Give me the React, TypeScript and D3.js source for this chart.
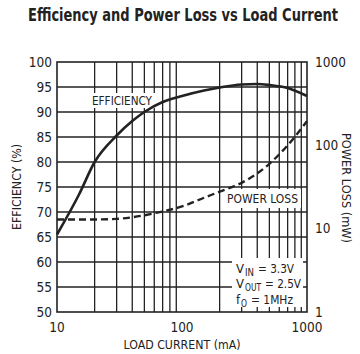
import { useMemo } from "react";
import * as d3 from "d3";

// load current (mA) vs efficiency (%)
const effCurrent = [10, 15, 20, 30, 40, 50, 70, 100, 150, 200, 300, 400, 500, 700, 1000];
const efficiency = [65.5, 73.5, 80, 85.3, 88.2, 90, 92, 93.2, 94.3, 94.9, 95.5, 95.6, 95.4, 94.8, 93.2];

// load current (mA) vs power loss (mW)
const lossCurrent = [10, 20, 30, 40, 60, 100, 150, 200, 300, 400, 500, 700, 1000];
const powerLoss = [12.9, 12.9, 13.1, 13.7, 15.3, 18.5, 23.5, 27.8, 35.5, 46, 60, 100, 195];

const effTicks = [50, 55, 60, 65, 70, 75, 80, 85, 90, 95, 100];
const lossTicks = [1, 10, 100, 1000];
const currentTicks = [10, 100, 1000];
const currentGrid = [20, 30, 40, 50, 60, 70, 80, 90, 200, 300, 400, 500, 600, 700, 800, 900];

const FONT = "'Liberation Sans Narrow', 'DejaVu Sans Condensed', 'Liberation Sans', sans-serif";
const INK = "#222";

export default function App() {
  const width = 360;
  const height = 354;
  const m = { left: 57, right: 307, top: 62, bottom: 312 };

  const x = d3.scaleLog().domain([10, 1000]).range([m.left, m.right]);
  const yEff = d3.scaleLinear().domain([50, 100]).range([m.bottom, m.top]);
  const yLoss = d3.scaleLog().domain([1, 1000]).range([m.bottom, m.top]);

  const effPath = useMemo(() => {
    const line = d3.line<number>()
      .x((d, i) => x(effCurrent[i]))
      .y(d => yEff(d))
      .curve(d3.curveMonotoneX);
    return line(efficiency);
  }, []);

  const lossPath = useMemo(() => {
    const line = d3.line<number>()
      .x((d, i) => x(lossCurrent[i]))
      .y(d => yLoss(d))
      .curve(d3.curveMonotoneX);
    return line(powerLoss);
  }, []);

  // legend lines: main letter, subscript, rest
  const legend = [
    { v: "V", sub: "IN", subW: 9, rest: "= 3.3V", restW: 36, y: 273 },
    { v: "V", sub: "OUT", subW: 16, rest: "= 2.5V", restW: 36, y: 288 },
    { v: "f", sub: "O", subW: 6, rest: "= 1MHz", restW: 42, y: 304 },
  ];

  return (
    <svg width={width} height={height} style={{ position: "absolute", left: 0, top: 0, background: "#fff" }}
      fontFamily={FONT}>
      <rect width={width} height={height} fill="#fff" />

      <text transform="translate(183,21) scale(1,1.2)" textAnchor="middle" fontSize={14} fontWeight="bold" fill={INK}
        textLength={310} lengthAdjust="spacingAndGlyphs">
        Efficiency and Power Loss vs Load Current
      </text>

      {/* grid */}
      <g stroke={INK} strokeWidth={1.3}>
        {effTicks.slice(1, -1).map(t => (
          <line key={"h" + t} x1={m.left} x2={m.right} y1={yEff(t)} y2={yEff(t)} />
        ))}
        {currentGrid.map(t => (
          <line key={"v" + t} x1={x(t)} x2={x(t)} y1={m.top} y2={m.bottom} />
        ))}
      </g>

      {/* label backgrounds */}
      <rect x={87} y={93} width={71} height={15} fill="#fff" />
      <rect x={224} y={189} width={77} height={19} fill="#fff" />
      <rect x={232} y={258} width={71} height={49} fill="#fff" />

      <rect x={m.left} y={m.top} width={m.right - m.left} height={m.bottom - m.top}
        fill="none" stroke={INK} strokeWidth={1.6} />

      {/* curves */}
      <path d={effPath ?? ""} fill="none" stroke={INK} strokeWidth={2.6} />
      <path d={lossPath ?? ""} fill="none" stroke={INK} strokeWidth={2.4} strokeDasharray="7,4" />

      {/* left axis */}
      <g fontSize={13.5} fill={INK} textAnchor="end">
        {effTicks.map(t => (
          <text key={t} x={52} y={yEff(t)} dy="0.35em">{t}</text>
        ))}
      </g>
      {/* right axis */}
      <g fontSize={13.5} fill={INK} textAnchor="start">
        {lossTicks.map(t => (
          <text key={t} x={315} y={yLoss(t)} dy="0.35em">{t}</text>
        ))}
      </g>
      {/* bottom axis */}
      <g fontSize={13.5} fill={INK} textAnchor="middle">
        {currentTicks.map(t => (
          <text key={t} x={x(t)} y={332}>{t}</text>
        ))}
      </g>

      <text x={182} y={349} textAnchor="middle" fontSize={12.5} fill={INK}
        textLength={117} lengthAdjust="spacingAndGlyphs">LOAD CURRENT (mA)</text>
      <text transform="translate(21,187) rotate(-90)" textAnchor="middle" fontSize={12.5} fill={INK}
        textLength={86} lengthAdjust="spacingAndGlyphs">EFFICIENCY (%)</text>
      <text transform="translate(342,188) rotate(90)" textAnchor="middle" fontSize={12.5} fill={INK}
        textLength={110} lengthAdjust="spacingAndGlyphs">POWER LOSS (mW)</text>

      <text x={92} y={105} fontSize={12.5} fill={INK} textLength={60} lengthAdjust="spacingAndGlyphs">EFFICIENCY</text>
      <text x={227} y={203} fontSize={12.5} fill={INK} textLength={71} lengthAdjust="spacingAndGlyphs">POWER LOSS</text>

      <g fill={INK}>
        {legend.map(l => {
          const vw = l.v === "V" ? 9 : 5;
          const subX = 236 + vw;
          const restX = subX + l.subW + 4;
          return (
            <g key={l.sub}>
              <text x={236} y={l.y} fontSize={13}>{l.v}</text>
              <text x={subX} y={l.y + 2.5} fontSize={10} textLength={l.subW} lengthAdjust="spacingAndGlyphs">{l.sub}</text>
              <text x={restX} y={l.y} fontSize={13} textLength={l.restW} lengthAdjust="spacingAndGlyphs">{l.rest}</text>
            </g>
          );
        })}
      </g>
    </svg>
  );
}
